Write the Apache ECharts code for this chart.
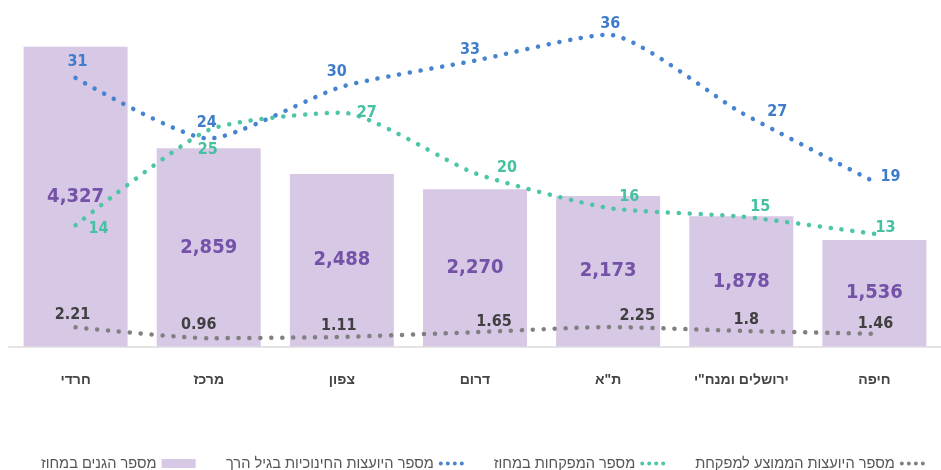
<!DOCTYPE html>
<html>
<head>
<meta charset="utf-8">
<script src="https://cdn.jsdelivr.net/npm/echarts@6/dist/echarts.min.js"></script>
<style>
  html, body { margin: 0; padding: 0; background: #fff; }
  #main { width: 941px; height: 470px; }
</style>
</head>
<body>
<div id="main"></div>
<script>
// data
var districts = ['חרדי', 'מרכז', 'צפון', 'דרום', 'ת"א', 'ירושלים ומנח"י', 'חיפה'];
var kindergartens = [4327, 2859, 2488, 2270, 2173, 1878, 1536];
var counselors = [31, 24, 30, 33, 36, 27, 19];
var supervisors = [14, 25, 27, 20, 16, 15, 13];
var avgPerSupervisor = [2.21, 0.96, 1.11, 1.65, 2.25, 1.8, 1.46];

var names = ['מספר הגנים במחוז', 'מספר היועצות החינוכיות בגיל הרך', 'מספר המפקחות במחוז', 'מספר היועצות הממוצע למפקחת'];

// label offsets (px from the point), kept apart from the values
var blueOffsets = [[2, -16], [-2, -16], [-5, -15], [-5, -11], [2, -11], [36, -1], [16, -5]];
var tealOffsets = [[23, 4], [-1, 20], [25, 0], [32, -5], [21, -11], [19, -10], [11, -6]];
var grayOffsets = [[-3, -13], [-10, -13], [-3, -11], [19, -10], [29, -11], [5, -11], [1, -10]];

var NUM_FONT = '"DejaVu Sans Condensed", sans-serif';
var HEB_FONT = '"Liberation Sans", sans-serif';
var dots = [0.1, 10.8];
var dotIcon = 'path://M0,2a2,2 0 1,0 4,0a2,2 0 1,0 -4,0zM7,2a2,2 0 1,0 4,0a2,2 0 1,0 -4,0zM14,2a2,2 0 1,0 4,0a2,2 0 1,0 -4,0zM21,2a2,2 0 1,0 4,0a2,2 0 1,0 -4,0z';

function lineData(values, offsets) {
  return values.map(function (v, i) {
    return { value: v, label: { offset: offsets[i] } };
  });
}

function lineSeries(name, values, offsets, color, labelColor) {
  return {
    name: name,
    type: 'line',
    yAxisIndex: 1,
    smooth: 0.2,
    symbol: 'circle',
    symbolSize: 0.1,
    itemStyle: { color: color },
    lineStyle: { color: color, width: 4.5, type: dots, cap: 'round' },
    label: {
      show: true,
      position: 'inside',
      color: labelColor,
      fontFamily: NUM_FONT,
      fontWeight: 'bold',
      fontSize: 16
    },
    data: lineData(values, offsets),
    z: 3
  };
}

var chart = echarts.init(document.getElementById('main'));
chart.setOption({
  animation: false,
  grid: { left: 9, width: 941, top: -10.5, height: 357 },
  legend: [{
    left: 36, top: 451, align: 'right', itemWidth: 34, itemHeight: 9,
    textStyle: { color: '#555', fontSize: 14.6, fontFamily: HEB_FONT },
    data: [{ name: names[0], icon: 'rect' }]
  }, {
    left: 221, top: 451, align: 'right', itemGap: 30, itemWidth: 25, itemHeight: 4,
    textStyle: { color: '#555', fontSize: 14.6, fontFamily: HEB_FONT },
    data: [
      { name: names[1], icon: dotIcon },
      { name: names[2], icon: dotIcon },
      { name: names[3], icon: dotIcon }
    ]
  }],
  xAxis: {
    type: 'category',
    data: districts,
    axisLine: { lineStyle: { color: '#e4e4e4', width: 2 } },
    axisTick: { show: false },
    axisLabel: { color: '#444', fontSize: 14, fontWeight: 'bold', fontFamily: HEB_FONT, margin: 27 }
  },
  yAxis: [
    { type: 'value', min: 0, max: 5000, show: false },
    { type: 'value', min: 0, max: 40, show: false }
  ],
  series: [
    {
      name: names[0],
      type: 'bar',
      barWidth: 104,
      itemStyle: { color: '#d7c8e6' },
      label: {
        show: true, position: 'inside', color: '#7352a8',
        fontFamily: NUM_FONT, fontWeight: 'bold', fontSize: 20,
        formatter: function (p) { return p.value.toLocaleString('en-US'); }
      },
      data: kindergartens,
      z: 1
    },
    lineSeries(names[1], counselors, blueOffsets, '#4683d0', '#3f7dcc'),
    lineSeries(names[2], supervisors, tealOffsets, '#4cc6a7', '#45c0a0'),
    lineSeries(names[3], avgPerSupervisor, grayOffsets, '#808080', '#404040')
  ]
});
</script>
</body>
</html>
